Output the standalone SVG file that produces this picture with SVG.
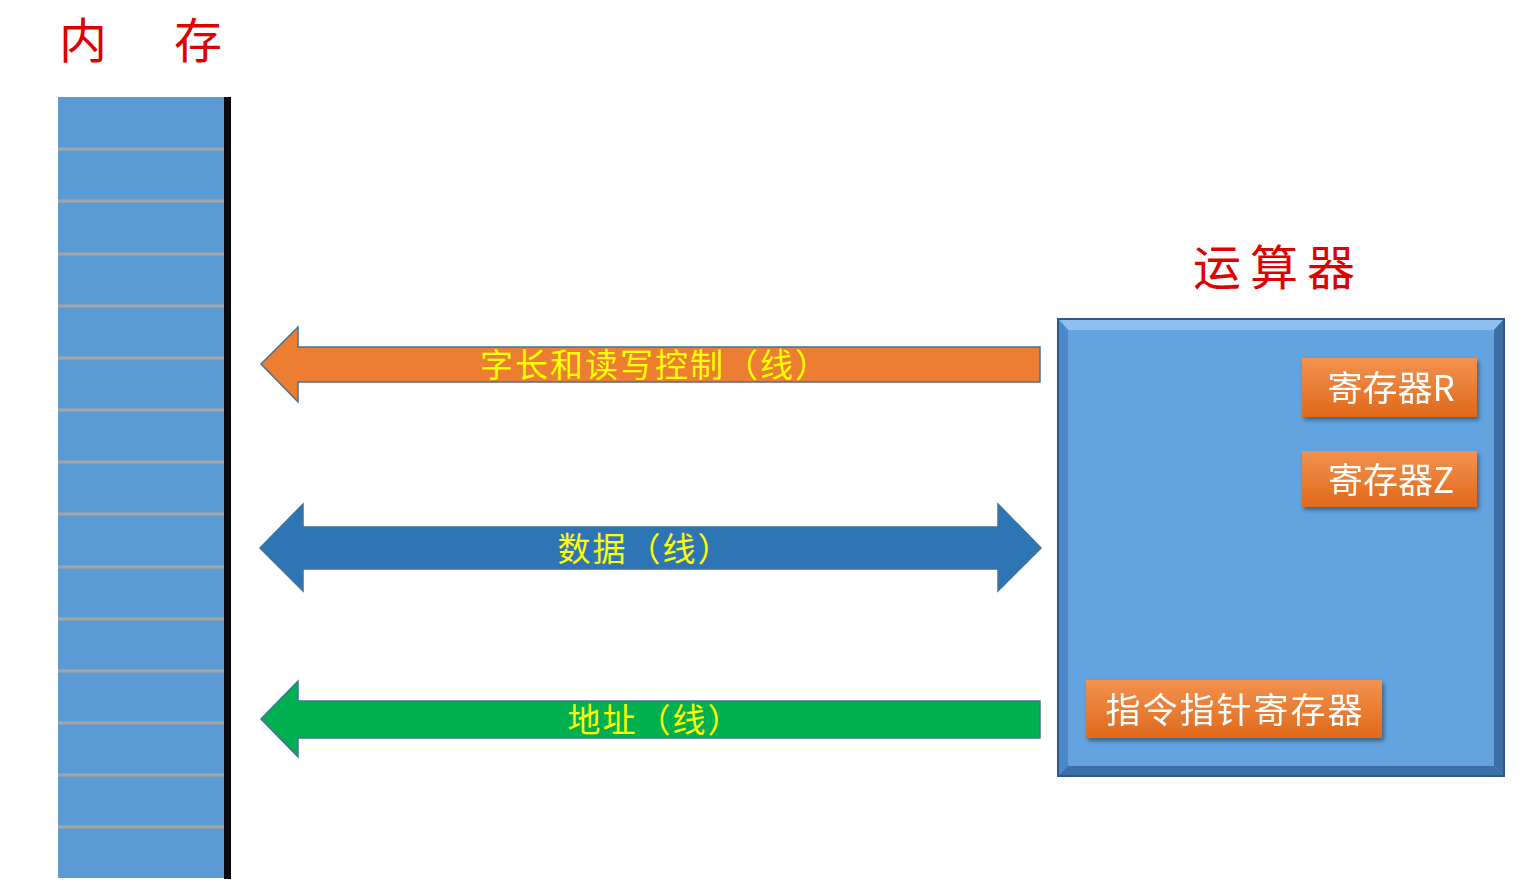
<svg xmlns="http://www.w3.org/2000/svg" width="1533" height="895" viewBox="0 0 1533 895">
<defs>
<style>
.cell{fill:#5b9bd5;}
.sep{stroke:#a6a6a6;stroke-width:3;}
.title{font-family:"Noto Sans CJK SC","Noto Sans CJK JP",sans-serif;fill:#e00000;font-size:48px;}
.lbl{font-family:"Noto Sans CJK SC","Noto Sans CJK JP",sans-serif;fill:#ffff00;font-size:33px;text-anchor:middle;letter-spacing:2px;}
.reg{font-family:"Noto Sans CJK SC","Noto Sans CJK JP",sans-serif;fill:#ffffff;font-size:35px;text-anchor:middle;}
.arrow{stroke:#41719c;stroke-width:1.5;}
</style>
<linearGradient id="og" x1="0" y1="0" x2="0" y2="1">
<stop offset="0" stop-color="#f39250"/>
<stop offset="1" stop-color="#e0691a"/>
</linearGradient>
<filter id="sh" x="-10%" y="-10%" width="130%" height="140%">
<feDropShadow dx="2" dy="3" stdDeviation="2" flood-color="#000" flood-opacity="0.4"/>
</filter>
</defs>

<g id="title-memory">
<text class="title" x="59" y="58">内</text>
<text class="title" x="174" y="58">存</text>
</g>

<g id="memory">
<rect class="cell" x="58" y="97" width="166" height="781"/>
<g class="sep">
<line x1="58" y1="149" x2="224" y2="149"/>
<line x1="58" y1="201" x2="224" y2="201"/>
<line x1="58" y1="254" x2="224" y2="254"/>
<line x1="58" y1="306" x2="224" y2="306"/>
<line x1="58" y1="358" x2="224" y2="358"/>
<line x1="58" y1="410" x2="224" y2="410"/>
<line x1="58" y1="462" x2="224" y2="462"/>
<line x1="58" y1="514" x2="224" y2="514"/>
<line x1="58" y1="567" x2="224" y2="567"/>
<line x1="58" y1="619" x2="224" y2="619"/>
<line x1="58" y1="671" x2="224" y2="671"/>
<line x1="58" y1="723" x2="224" y2="723"/>
<line x1="58" y1="775" x2="224" y2="775"/>
<line x1="58" y1="827" x2="224" y2="827"/>
</g>
<rect x="224" y="97" width="7" height="782" fill="#0a0a14"/>
</g>

<g id="connectors">
<g id="bus-control">
<polygon class="arrow" fill="#ed7d31" points="261,364 298,327 298,347 1040,347 1040,382 298,382 298,402"/>
<text class="lbl" x="655" y="377">字长和读写控制（线）</text>
</g>
<g id="bus-data">
<polygon class="arrow" fill="#2e75b6" points="260,548 303,504 303,527 998,527 998,504 1041,548 998,591 998,569 303,569 303,591"/>
<text class="lbl" x="645" y="561">数据（线）</text>
</g>
<g id="bus-address">
<polygon class="arrow" fill="#00b050" points="261,719 298,681 298,701 1040,701 1040,738 298,738 298,757"/>
<text class="lbl" x="655" y="732">地址（线）</text>
</g>
</g>

<g id="title-alu">
<text class="title" x="1193" y="285" letter-spacing="9">运算器</text>
</g>

<g id="alu">
<rect x="1058" y="319" width="446" height="457" fill="#62a3e0" stroke="#2f5597" stroke-width="2"/>
<polygon points="1059,320 1503,320 1494,330 1068,330" fill="#8fc0ee"/>
<polygon points="1059,320 1068,330 1068,766 1059,775" fill="#4a88c8"/>
<polygon points="1503,320 1503,775 1494,766 1494,330" fill="#3c6ea6"/>
<polygon points="1059,775 1068,766 1494,766 1503,775" fill="#3a6fa8"/>
</g>

<g id="reg-r" filter="url(#sh)">
<rect x="1302" y="358" width="175" height="59" fill="url(#og)"/>
<text class="reg" x="1391" y="401">寄存器R</text>
</g>

<g id="reg-z" filter="url(#sh)">
<rect x="1302" y="451" width="175" height="56" fill="url(#og)"/>
<text class="reg" x="1391" y="493">寄存器Z</text>
</g>

<g id="reg-ip" filter="url(#sh)">
<rect x="1086" y="680" width="296" height="58" fill="url(#og)"/>
<text class="reg" x="1235" y="723" letter-spacing="2">指令指针寄存器</text>
</g>
</svg>
